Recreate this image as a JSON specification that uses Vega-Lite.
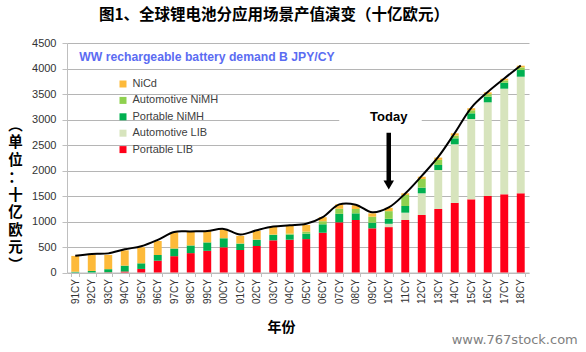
{
  "$schema": "https://vega.github.io/schema/vega-lite/v6.json",
  "width": 462,
  "height": 229.5,
  "autosize": {"type": "none"},
  "padding": {"left": 67, "top": 43, "right": 57, "bottom": 79.5},
  "background": "white",
  "title": {
    "text": "图1、全球锂电池分应用场景产值演变（十亿欧元）",
    "font": "Noto Sans CJK SC",
    "fontSize": 15.5,
    "fontWeight": "bold",
    "color": "#000000",
    "anchor": "middle",
    "frame": "group",
    "baseline": "middle",
    "offset": 7,
    "dx": -24
  },
  "datasets": {
    "demand": [
      {"year": "91CY", "Portable LIB": 0, "Automotive LIB": 0, "Portable NiMH": 15, "Automotive NiMH": 0, "NiCd": 310, "total": 330},
      {"year": "92CY", "Portable LIB": 0, "Automotive LIB": 0, "Portable NiMH": 30, "Automotive NiMH": 0, "NiCd": 315, "total": 365},
      {"year": "93CY", "Portable LIB": 5, "Automotive LIB": 0, "Portable NiMH": 60, "Automotive NiMH": 0, "NiCd": 280, "total": 375},
      {"year": "94CY", "Portable LIB": 20, "Automotive LIB": 0, "Portable NiMH": 115, "Automotive NiMH": 0, "NiCd": 300, "total": 455},
      {"year": "95CY", "Portable LIB": 70, "Automotive LIB": 0, "Portable NiMH": 110, "Automotive NiMH": 0, "NiCd": 315, "total": 515},
      {"year": "96CY", "Portable LIB": 231, "Automotive LIB": 0, "Portable NiMH": 112, "Automotive NiMH": 0, "NiCd": 275, "total": 640},
      {"year": "97CY", "Portable LIB": 320, "Automotive LIB": 0, "Portable NiMH": 150, "Automotive NiMH": 0, "NiCd": 320, "total": 795},
      {"year": "98CY", "Portable LIB": 380, "Automotive LIB": 0, "Portable NiMH": 150, "Automotive NiMH": 0, "NiCd": 280, "total": 805},
      {"year": "99CY", "Portable LIB": 425, "Automotive LIB": 0, "Portable NiMH": 165, "Automotive NiMH": 0, "NiCd": 222, "total": 815},
      {"year": "00CY", "Portable LIB": 494, "Automotive LIB": 0, "Portable NiMH": 176, "Automotive NiMH": 5, "NiCd": 175, "total": 855},
      {"year": "01CY", "Portable LIB": 441, "Automotive LIB": 0, "Portable NiMH": 124, "Automotive NiMH": 5, "NiCd": 150, "total": 745},
      {"year": "02CY", "Portable LIB": 520, "Automotive LIB": 0, "Portable NiMH": 117, "Automotive NiMH": 10, "NiCd": 170, "total": 830},
      {"year": "03CY", "Portable LIB": 631, "Automotive LIB": 0, "Portable NiMH": 104, "Automotive NiMH": 10, "NiCd": 155, "total": 900},
      {"year": "04CY", "Portable LIB": 643, "Automotive LIB": 0, "Portable NiMH": 98, "Automotive NiMH": 20, "NiCd": 152, "total": 925},
      {"year": "05CY", "Portable LIB": 655, "Automotive LIB": 0, "Portable NiMH": 106, "Automotive NiMH": 40, "NiCd": 130, "total": 955},
      {"year": "06CY", "Portable LIB": 780, "Automotive LIB": 0, "Portable NiMH": 165, "Automotive NiMH": 60, "NiCd": 80, "total": 1085},
      {"year": "07CY", "Portable LIB": 984, "Automotive LIB": 0, "Portable NiMH": 166, "Automotive NiMH": 100, "NiCd": 87, "total": 1335},
      {"year": "08CY", "Portable LIB": 1029, "Automotive LIB": 0, "Portable NiMH": 131, "Automotive NiMH": 85, "NiCd": 73, "total": 1330},
      {"year": "09CY", "Portable LIB": 866, "Automotive LIB": 0, "Portable NiMH": 110, "Automotive NiMH": 118, "NiCd": 66, "total": 1180},
      {"year": "10CY", "Portable LIB": 890, "Automotive LIB": 65, "Portable NiMH": 98, "Automotive NiMH": 150, "NiCd": 65, "total": 1275},
      {"year": "11CY", "Portable LIB": 1029, "Automotive LIB": 144, "Portable NiMH": 131, "Automotive NiMH": 216, "NiCd": 33, "total": 1550},
      {"year": "12CY", "Portable LIB": 1127, "Automotive LIB": 426, "Portable NiMH": 110, "Automotive NiMH": 170, "NiCd": 45, "total": 1895},
      {"year": "13CY", "Portable LIB": 1245, "Automotive LIB": 765, "Portable NiMH": 98, "Automotive NiMH": 100, "NiCd": 45, "total": 2265},
      {"year": "14CY", "Portable LIB": 1365, "Automotive LIB": 1149, "Portable NiMH": 117, "Automotive NiMH": 52, "NiCd": 46, "total": 2735},
      {"year": "15CY", "Portable LIB": 1435, "Automotive LIB": 1575, "Portable NiMH": 111, "Automotive NiMH": 60, "NiCd": 40, "total": 3230},
      {"year": "16CY", "Portable LIB": 1500, "Automotive LIB": 1837, "Portable NiMH": 110, "Automotive NiMH": 50, "NiCd": 36, "total": 3540},
      {"year": "17CY", "Portable LIB": 1533, "Automotive LIB": 2071, "Portable NiMH": 118, "Automotive NiMH": 45, "NiCd": 33, "total": 3805},
      {"year": "18CY", "Portable LIB": 1553, "Automotive LIB": 2286, "Portable NiMH": 131, "Automotive NiMH": 52, "NiCd": 33, "total": 4060}
    ],
    "types": [
      {"type": "Portable LIB", "k": 1},
      {"type": "Automotive LIB", "k": 2},
      {"type": "Portable NiMH", "k": 3},
      {"type": "Automotive NiMH", "k": 4},
      {"type": "NiCd", "k": 5}
    ]
  },
  "layer": [
    {
      "data": {"name": "demand"},
      "transform": [
        {"fold": ["Portable LIB", "Automotive LIB", "Portable NiMH", "Automotive NiMH", "NiCd"], "as": ["type", "value"]},
        {"lookup": "type", "from": {"data": {"name": "types"}, "key": "type", "fields": ["k"]}}
      ],
      "mark": {"type": "bar"},
      "encoding": {
        "x": {
          "field": "year",
          "type": "nominal",
          "scale": {
            "domain": ["91CY","92CY","93CY","94CY","95CY","96CY","97CY","98CY","99CY","00CY","01CY","02CY","03CY","04CY","05CY","06CY","07CY","08CY","09CY","10CY","11CY","12CY","13CY","14CY","15CY","16CY","17CY","18CY"],
            "paddingInner": 0.52,
            "paddingOuter": 0.26
          },
          "axis": {"title": "年份"}
        },
        "y": {
          "field": "value",
          "type": "quantitative",
          "stack": "zero",
          "scale": {"domain": [0, 4500], "nice": false},
          "axis": {"values": [0, 500, 1000, 1500, 2000, 2500, 3000, 3500, 4000, 4500], "format": "d", "title": ["︵", "单", "位", "：", "十", "亿", "欧", "元", "︶"]}
        },
        "color": {
          "field": "type",
          "type": "nominal",
          "scale": {
            "domain": ["NiCd", "Automotive NiMH", "Portable NiMH", "Automotive LIB", "Portable LIB"],
            "range": ["#FDBA3A", "#8FD14F", "#00B050", "#D7E4BD", "#FF0019"]
          },
          "legend": {
            "orient": "none",
            "legendX": 50.5,
            "legendY": 35.5,
            "title": null,
            "symbolType": "square",
            "symbolSize": 49,
            "symbolStrokeWidth": 0,
            "labelFont": "Liberation Sans",
            "labelFontSize": 11,
            "labelColor": "#404040",
            "labelOffset": 4,
            "rowPadding": 4.4,
            "padding": 0
          }
        },
        "order": {"field": "k", "type": "quantitative", "sort": "ascending"}
      }
    },
    {
      "data": {"name": "demand"},
      "mark": {"type": "line", "color": "#000000", "strokeWidth": 2, "interpolate": "catmull-rom"},
      "encoding": {
        "x": {"field": "year", "type": "nominal", "axis": {"title": "年份"}},
        "y": {"field": "total", "type": "quantitative", "axis": {"values": [0, 500, 1000, 1500, 2000, 2500, 3000, 3500, 4000, 4500], "format": "d", "title": ["︵", "单", "位", "：", "十", "亿", "欧", "元", "︶"]}},
        "order": {"value": null}
      }
    },
    {
      "data": {"values": [{}]},
      "mark": {"type": "rule", "color": "#FFFFFF", "strokeWidth": 15},
      "encoding": {
        "x": {"datum": "07CY", "axis": {"title": "年份"}},
        "x2": {"datum": "12CY"},
        "y": {"datum": 3050, "axis": {"values": [0, 500, 1000, 1500, 2000, 2500, 3000, 3500, 4000, 4500], "format": "d", "title": ["︵", "单", "位", "：", "十", "亿", "欧", "元", "︶"]}}
      }
    },
    {
      "data": {"values": [{}]},
      "mark": {"type": "text", "text": "Today", "font": "Liberation Sans", "fontSize": 13, "fontWeight": "bold", "color": "#000000", "baseline": "middle", "align": "center"},
      "encoding": {
        "x": {"datum": "10CY", "axis": {"title": "年份"}},
        "y": {"datum": 3050, "axis": {"values": [0, 500, 1000, 1500, 2000, 2500, 3000, 3500, 4000, 4500], "format": "d", "title": ["︵", "单", "位", "：", "十", "亿", "欧", "元", "︶"]}}
      }
    },
    {
      "data": {"values": [{}]},
      "mark": {"type": "rule", "color": "#000000", "strokeWidth": 4.5},
      "encoding": {
        "x": {"datum": "10CY", "axis": {"title": "年份"}},
        "y": {"datum": 2740, "axis": {"values": [0, 500, 1000, 1500, 2000, 2500, 3000, 3500, 4000, 4500], "format": "d", "title": ["︵", "单", "位", "：", "十", "亿", "欧", "元", "︶"]}},
        "y2": {"datum": 1790}
      }
    },
    {
      "data": {"values": [{}]},
      "mark": {"type": "point", "shape": "triangle-down", "filled": true, "color": "#000000", "size": 110, "opacity": 1},
      "encoding": {
        "x": {"datum": "10CY", "axis": {"title": "年份"}},
        "y": {"datum": 1716, "axis": {"values": [0, 500, 1000, 1500, 2000, 2500, 3000, 3500, 4000, 4500], "format": "d", "title": ["︵", "单", "位", "：", "十", "亿", "欧", "元", "︶"]}}
      }
    },
    {
      "data": {"values": [{}]},
      "mark": {"type": "text", "text": "WW rechargeable battery demand B JPY/CY", "font": "Liberation Sans", "fontSize": 12.2, "fontWeight": "bold", "color": "#5B6CF2", "align": "left", "baseline": "middle", "dx": 4},
      "encoding": {
        "x": {"datum": "91CY", "axis": {"title": "年份"}},
        "y": {"datum": 4225, "axis": {"values": [0, 500, 1000, 1500, 2000, 2500, 3000, 3500, 4000, 4500], "format": "d", "title": ["︵", "单", "位", "：", "十", "亿", "欧", "元", "︶"]}}
      }
    },
    {
      "data": {"values": [{}]},
      "mark": {"type": "text", "text": "www.767stock.com", "font": "DejaVu Sans", "fontSize": 13, "color": "#808080", "align": "right", "baseline": "middle", "dx": 57},
      "encoding": {
        "x": {"datum": "18CY", "axis": {"title": "年份"}},
        "y": {"datum": -1323, "axis": {"values": [0, 500, 1000, 1500, 2000, 2500, 3000, 3500, 4000, 4500], "format": "d", "title": ["︵", "单", "位", "：", "十", "亿", "欧", "元", "︶"]}}
      }
    }
  ],
  "config": {
    "view": {"stroke": null},
    "axisX": {
      "titleFont": "Noto Sans CJK SC",
      "titleFontSize": 14,
      "titleFontWeight": "bold",
      "titleColor": "#000000",
      "titleX": 214,
      "titleY": 55,
      "titleAlign": "center",
      "titleBaseline": "middle",
      "labelAngle": -90,
      "labelFont": "Liberation Sans",
      "labelFontSize": 10,
      "labelColor": "#333333",
      "labelPadding": 2,
      "tickBand": "extent",
      "tickSize": 4,
      "tickColor": "#BFBFBF",
      "domainColor": "#BFBFBF",
      "grid": false
    },
    "axisY": {
      "titleAngle": 0,
      "titleFont": "Noto Sans CJK SC",
      "titleFontSize": 14.5,
      "titleFontWeight": "bold",
      "titleColor": "#000000",
      "titleLineHeight": 17.5,
      "titleAlign": "center",
      "titleBaseline": "middle",
      "titleX": -52,
      "titleY": 82,
      "labelFont": "Liberation Sans",
      "labelFontSize": 11,
      "labelColor": "#333333",
      "labelPadding": 6,
      "tickSize": 5,
      "tickColor": "#BFBFBF",
      "domainColor": "#BFBFBF",
      "grid": true,
      "gridColor": "#B5B5B5",
      "gridWidth": 1
    }
  }
}
